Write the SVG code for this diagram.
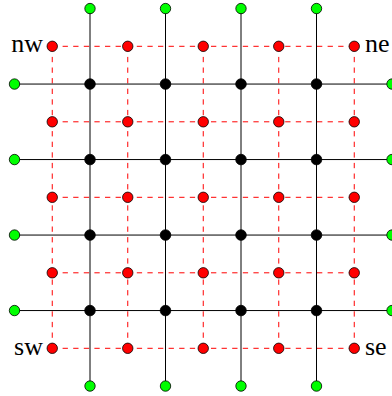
<svg xmlns="http://www.w3.org/2000/svg" width="392" height="396" viewBox="0 0 392 396">
<style>
.d{stroke:#ff0000;stroke-width:1;stroke-dasharray:5.3 5.3;fill:none}
.s{stroke:#000;stroke-width:1;fill:none}
.r{fill:#ff0000;stroke:#000;stroke-width:0.8}
.g{fill:#00ff00;stroke:#000;stroke-width:0.8}
.b{fill:#000;stroke:#000;stroke-width:0.8}
text{font-family:'Liberation Serif','DejaVu Serif',serif;font-size:26px;fill:#000}
</style>
<rect width="392" height="396" fill="#fff"/>
<g id="connectors">
<line class="d" x1="52" y1="46.3" x2="354.5" y2="46.3"/>
<line class="d" x1="52" y1="121.8" x2="354.5" y2="121.8"/>
<line class="d" x1="52" y1="197.3" x2="354.5" y2="197.3"/>
<line class="d" x1="52" y1="272.8" x2="354.5" y2="272.8"/>
<line class="d" x1="52" y1="348.3" x2="354.5" y2="348.3"/>
<line class="d" x1="52.25" y1="46.3" x2="52.25" y2="348.3"/>
<line class="d" x1="127.75" y1="46.3" x2="127.75" y2="348.3"/>
<line class="d" x1="203.25" y1="46.3" x2="203.25" y2="348.3"/>
<line class="d" x1="278.75" y1="46.3" x2="278.75" y2="348.3"/>
<line class="d" x1="354.25" y1="46.3" x2="354.25" y2="348.3"/>
<line class="s" x1="14.5" y1="84.05" x2="392" y2="84.05"/>
<line class="s" x1="14.5" y1="159.55" x2="392" y2="159.55"/>
<line class="s" x1="14.5" y1="235.05" x2="392" y2="235.05"/>
<line class="s" x1="14.5" y1="310.55" x2="392" y2="310.55"/>
<line class="s" x1="90" y1="8.55" x2="90" y2="386.05"/>
<line class="s" x1="165.5" y1="8.55" x2="165.5" y2="386.05"/>
<line class="s" x1="241" y1="8.55" x2="241" y2="386.05"/>
<line class="s" x1="316.5" y1="8.55" x2="316.5" y2="386.05"/>
</g>
<g id="red-nodes">
<g id="r11"><circle class="r" cx="52.25" cy="46.3" r="5.2"/><text x="43" y="52" text-anchor="end">nw</text></g>
<g id="r12"><circle class="r" cx="127.75" cy="46.3" r="5.2"/></g>
<g id="r13"><circle class="r" cx="203.25" cy="46.3" r="5.2"/></g>
<g id="r14"><circle class="r" cx="278.75" cy="46.3" r="5.2"/></g>
<g id="r15"><circle class="r" cx="354.25" cy="46.3" r="5.2"/><text x="365" y="52">ne</text></g>
<g id="r21"><circle class="r" cx="52.25" cy="121.8" r="5.2"/></g>
<g id="r22"><circle class="r" cx="127.75" cy="121.8" r="5.2"/></g>
<g id="r23"><circle class="r" cx="203.25" cy="121.8" r="5.2"/></g>
<g id="r24"><circle class="r" cx="278.75" cy="121.8" r="5.2"/></g>
<g id="r25"><circle class="r" cx="354.25" cy="121.8" r="5.2"/></g>
<g id="r31"><circle class="r" cx="52.25" cy="197.3" r="5.2"/></g>
<g id="r32"><circle class="r" cx="127.75" cy="197.3" r="5.2"/></g>
<g id="r33"><circle class="r" cx="203.25" cy="197.3" r="5.2"/></g>
<g id="r34"><circle class="r" cx="278.75" cy="197.3" r="5.2"/></g>
<g id="r35"><circle class="r" cx="354.25" cy="197.3" r="5.2"/></g>
<g id="r41"><circle class="r" cx="52.25" cy="272.8" r="5.2"/></g>
<g id="r42"><circle class="r" cx="127.75" cy="272.8" r="5.2"/></g>
<g id="r43"><circle class="r" cx="203.25" cy="272.8" r="5.2"/></g>
<g id="r44"><circle class="r" cx="278.75" cy="272.8" r="5.2"/></g>
<g id="r45"><circle class="r" cx="354.25" cy="272.8" r="5.2"/></g>
<g id="r51"><circle class="r" cx="52.25" cy="348.3" r="5.2"/><text x="43" y="354.5" text-anchor="end">sw</text></g>
<g id="r52"><circle class="r" cx="127.75" cy="348.3" r="5.2"/></g>
<g id="r53"><circle class="r" cx="203.25" cy="348.3" r="5.2"/></g>
<g id="r54"><circle class="r" cx="278.75" cy="348.3" r="5.2"/></g>
<g id="r55"><circle class="r" cx="354.25" cy="348.3" r="5.2"/><text x="365" y="354.5">se</text></g>
</g>
<g id="black-nodes">
<g id="b11"><circle class="b" cx="90" cy="84.05" r="5.3"/></g>
<g id="b12"><circle class="b" cx="165.5" cy="84.05" r="5.3"/></g>
<g id="b13"><circle class="b" cx="241" cy="84.05" r="5.3"/></g>
<g id="b14"><circle class="b" cx="316.5" cy="84.05" r="5.3"/></g>
<g id="b21"><circle class="b" cx="90" cy="159.55" r="5.3"/></g>
<g id="b22"><circle class="b" cx="165.5" cy="159.55" r="5.3"/></g>
<g id="b23"><circle class="b" cx="241" cy="159.55" r="5.3"/></g>
<g id="b24"><circle class="b" cx="316.5" cy="159.55" r="5.3"/></g>
<g id="b31"><circle class="b" cx="90" cy="235.05" r="5.3"/></g>
<g id="b32"><circle class="b" cx="165.5" cy="235.05" r="5.3"/></g>
<g id="b33"><circle class="b" cx="241" cy="235.05" r="5.3"/></g>
<g id="b34"><circle class="b" cx="316.5" cy="235.05" r="5.3"/></g>
<g id="b41"><circle class="b" cx="90" cy="310.55" r="5.3"/></g>
<g id="b42"><circle class="b" cx="165.5" cy="310.55" r="5.3"/></g>
<g id="b43"><circle class="b" cx="241" cy="310.55" r="5.3"/></g>
<g id="b44"><circle class="b" cx="316.5" cy="310.55" r="5.3"/></g>
</g>
<g id="green-nodes">
<g id="gt1"><circle class="g" cx="90" cy="8.55" r="5.2"/></g>
<g id="gt2"><circle class="g" cx="165.5" cy="8.55" r="5.2"/></g>
<g id="gt3"><circle class="g" cx="241" cy="8.55" r="5.2"/></g>
<g id="gt4"><circle class="g" cx="316.5" cy="8.55" r="5.2"/></g>
<g id="gb1"><circle class="g" cx="90" cy="386.05" r="5.2"/></g>
<g id="gb2"><circle class="g" cx="165.5" cy="386.05" r="5.2"/></g>
<g id="gb3"><circle class="g" cx="241" cy="386.05" r="5.2"/></g>
<g id="gb4"><circle class="g" cx="316.5" cy="386.05" r="5.2"/></g>
<g id="gl1"><circle class="g" cx="14.5" cy="84.05" r="5.2"/></g>
<g id="gl2"><circle class="g" cx="14.5" cy="159.55" r="5.2"/></g>
<g id="gl3"><circle class="g" cx="14.5" cy="235.05" r="5.2"/></g>
<g id="gl4"><circle class="g" cx="14.5" cy="310.55" r="5.2"/></g>
<g id="gr1"><circle class="g" cx="392" cy="84.05" r="5.2"/></g>
<g id="gr2"><circle class="g" cx="392" cy="159.55" r="5.2"/></g>
<g id="gr3"><circle class="g" cx="392" cy="235.05" r="5.2"/></g>
<g id="gr4"><circle class="g" cx="392" cy="310.55" r="5.2"/></g>
</g>
</svg>
